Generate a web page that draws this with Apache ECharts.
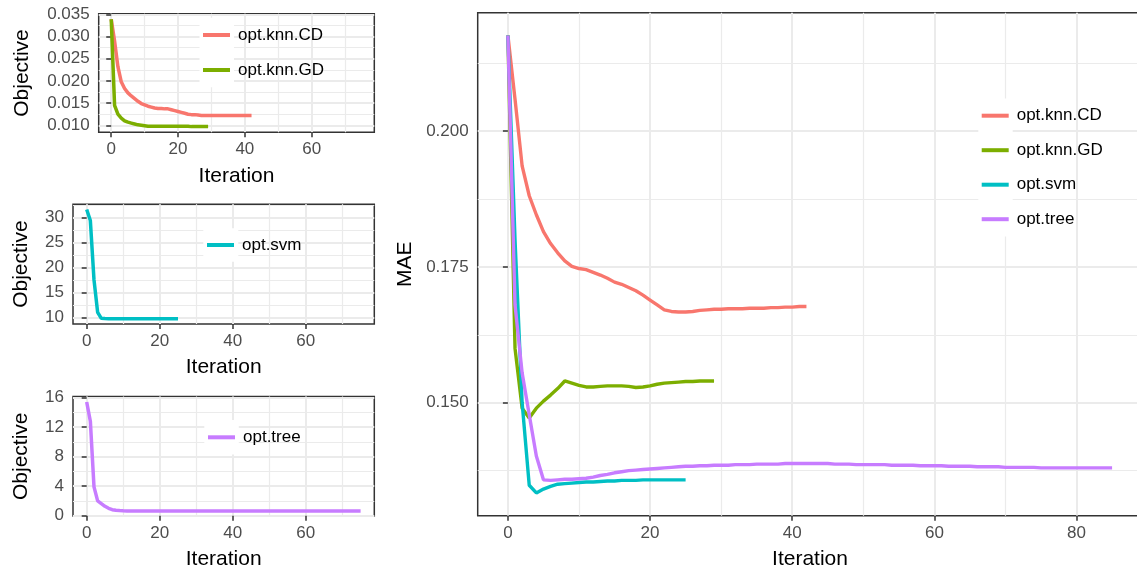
<!DOCTYPE html>
<html><head><meta charset="utf-8">
<script src="https://cdn.jsdelivr.net/npm/echarts@6/dist/echarts.min.js"></script>
<style>html,body{margin:0;padding:0;background:#fff}#c{width:1137px;height:573px}</style>
</head><body><div id="c"></div>
<script>
// ---------------- data ----------------
const seriesNames = ['opt.knn.CD', 'opt.knn.GD', 'opt.svm', 'opt.tree'];

// Objective per iteration (small panels)
const cdObj = [0.0339, 0.0290, 0.0232, 0.0198, 0.0183, 0.0173, 0.0166, 0.0160, 0.0154, 0.0149,
  0.0146, 0.0143, 0.0141, 0.0139, 0.0138, 0.0138, 0.0137, 0.0137, 0.0135, 0.0133,
  0.0131, 0.0129, 0.0127, 0.0125, 0.0124, 0.0124, 0.0123, 0.0122, 0.0122, 0.0122,
  0.0122, 0.0122, 0.0122, 0.0122, 0.0122, 0.0122, 0.0122, 0.0122, 0.0122, 0.0122,
  0.0122, 0.0122, 0.0122];
const gdObj = [0.0339, 0.0145, 0.0125, 0.0116, 0.0110, 0.0107, 0.0105, 0.0103, 0.0101, 0.0100,
  0.0099, 0.0098, 0.0098, 0.0098, 0.0098, 0.0098, 0.0098, 0.0098, 0.0098, 0.0098,
  0.0098, 0.0098, 0.0098, 0.0098, 0.0097, 0.0097, 0.0097, 0.0097, 0.0097, 0.0097];
const svmObj = [31.6, 29.4, 17.5, 11.0, 9.8, 9.75, 9.72, 9.72, 9.72, 9.72,
  9.72, 9.72, 9.72, 9.72, 9.72, 9.72, 9.72, 9.72, 9.72, 9.72,
  9.72, 9.72, 9.72, 9.72, 9.72, 9.72];
const treeObj = [15.4, 12.8, 3.9, 2.0, 1.63, 1.26, 0.99, 0.81, 0.72, 0.68,
  0.65, 0.64, 0.63, 0.63, 0.63, 0.63, 0.63, 0.63, 0.63, 0.63,
  0.63, 0.63, 0.63, 0.63, 0.63, 0.63, 0.63, 0.63, 0.63, 0.63,
  0.63, 0.63, 0.63, 0.63, 0.63, 0.63, 0.63, 0.63, 0.63, 0.63,
  0.63, 0.63, 0.63, 0.63, 0.63, 0.63, 0.63, 0.63, 0.63, 0.63,
  0.63, 0.63, 0.63, 0.63, 0.63, 0.63, 0.63, 0.63, 0.63, 0.63,
  0.63, 0.63, 0.63, 0.63, 0.63, 0.63, 0.63, 0.63, 0.63, 0.63,
  0.63, 0.63, 0.63, 0.63, 0.63, 0.63];

// MAE per iteration (main panel)
const cdMae = [0.2176, 0.2059, 0.1936, 0.1881, 0.1846, 0.1815, 0.1793, 0.1776, 0.1761, 0.1751,
  0.1747, 0.1745, 0.1740, 0.1735, 0.1729, 0.1722, 0.1718, 0.1712, 0.1706, 0.1698,
  0.1689, 0.1680, 0.1671, 0.1668, 0.1667, 0.1667, 0.1668, 0.1670, 0.1671, 0.1672,
  0.1672, 0.1673, 0.1673, 0.1673, 0.1674, 0.1674, 0.1674, 0.1675, 0.1675, 0.1676,
  0.1676, 0.1677, 0.1677];
const gdMae = [0.2176, 0.1600, 0.1490, 0.1472, 0.1490, 0.1503, 0.1514, 0.1526, 0.1540, 0.1536,
  0.1532, 0.1529, 0.1529, 0.1530, 0.1531, 0.1531, 0.1531, 0.1530, 0.1528, 0.1529,
  0.1531, 0.1534, 0.1536, 0.1537, 0.1538, 0.1539, 0.1539, 0.1540, 0.1540, 0.1540];
const svmMae = [0.2176, 0.1800, 0.1500, 0.1348, 0.1334, 0.1341, 0.1346, 0.1350, 0.1351, 0.1352,
  0.1353, 0.1354, 0.1354, 0.1355, 0.1356, 0.1356, 0.1357, 0.1357, 0.1357, 0.1358,
  0.1358, 0.1358, 0.1358, 0.1358, 0.1358, 0.1358];
const treeMae = [0.2176, 0.1680, 0.1555, 0.1478, 0.1402, 0.1358, 0.1357, 0.1358, 0.1359, 0.1359,
  0.1360, 0.1361, 0.1363, 0.1366, 0.1368, 0.1371, 0.1373, 0.1375, 0.1376, 0.1377,
  0.1378, 0.1379, 0.1380, 0.1381, 0.1382, 0.1383, 0.1383, 0.1384, 0.1384, 0.1385,
  0.1385, 0.1385, 0.1386, 0.1386, 0.1386, 0.1387, 0.1387, 0.1387, 0.1387, 0.1388,
  0.1388, 0.1388, 0.1388, 0.1388, 0.1388, 0.1388, 0.1387, 0.1387, 0.1387, 0.1386,
  0.1386, 0.1386, 0.1386, 0.1386, 0.1385, 0.1385, 0.1385, 0.1385, 0.1384, 0.1384,
  0.1384, 0.1384, 0.1383, 0.1383, 0.1383, 0.1383, 0.1382, 0.1382, 0.1382, 0.1382,
  0.1381, 0.1381, 0.1381, 0.1381, 0.1381, 0.1380, 0.1380, 0.1380, 0.1380, 0.1380,
  0.1380, 0.1380, 0.1380, 0.1380, 0.1380, 0.1380];

// tick labels
const smallXTicks = [0, 20, 40, 60];
const smallXMinor = [10, 30, 50, 70];
const mainXTicks = [0, 20, 40, 60, 80];
const mainXMinor = [10, 30, 50, 70];
const knnYTicks = [0.010, 0.015, 0.020, 0.025, 0.030, 0.035];
const knnYMinor = [0.0125, 0.0175, 0.0225, 0.0275, 0.0325];
const svmYTicks = [10, 15, 20, 25, 30];
const svmYMinor = [12.5, 17.5, 22.5, 27.5, 32.5];
const treeYTicks = [0, 4, 8, 12, 16];
const treeYMinor = [2, 6, 10, 14];
const mainYTicks = [0.150, 0.175, 0.200];
const mainYMinor = [0.1375, 0.1625, 0.1875, 0.2125];

// ---------------- styling / layout ----------------
const FONT = '"Liberation Sans", Arial, Helvetica, sans-serif';
const COLORS = {'opt.knn.CD': '#F8766D', 'opt.knn.GD': '#7CAE00', 'opt.svm': '#00BFC4', 'opt.tree': '#C77CFF'};
const pairs = a => a.map((v, i) => [i, v]);

const gridBoxes = [
  {left: 98.7, top: 13.7, width: 275.6, height: 118.6},
  {left: 73, top: 204.2, width: 301.3, height: 119.8},
  {left: 73, top: 396.5, width: 301.3, height: 119.5},
  {left: 477.7, top: 12.7, width: 664.6, height: 503}
];

function axisPair(dim, gi, min, max, ticks, minor, fmt, name, gap) {
  const minorAxis = {
    type: 'value', gridIndex: gi, min: min, max: max,
    position: dim === 'x' ? 'top' : 'right',
    axisLine: {show: false},
    axisTick: {show: false, customValues: minor},
    axisLabel: {show: false},
    splitLine: {show: true, lineStyle: {color: '#EBEBEB', width: 1.2}}
  };
  const majorAxis = {
    type: 'value', gridIndex: gi, min: min, max: max,
    position: dim === 'x' ? 'bottom' : 'left',
    axisLine: {show: false},
    axisTick: {show: true, customValues: ticks, length: 5, lineStyle: {color: '#333333', width: 1.5}},
    axisLabel: {show: true, customValues: ticks, formatter: fmt, margin: 9,
      color: '#4D4D4D', fontSize: 17, fontFamily: FONT},
    splitLine: {show: true, lineStyle: {color: '#EBEBEB', width: 2}},
    name: name, nameLocation: 'middle', nameGap: gap,
    nameTextStyle: {color: '#000', fontSize: 21, fontFamily: FONT}
  };
  return [minorAxis, majorAxis];
}

const intFmt = v => String(Math.round(v));
const f3 = v => v.toFixed(3);

const xAxes = [].concat(
  axisPair('x', 0, -3.75, 78.75, smallXTicks, smallXMinor, intFmt, 'Iteration', 33),
  axisPair('x', 1, -3.75, 78.75, smallXTicks, smallXMinor, intFmt, 'Iteration', 33),
  axisPair('x', 2, -3.75, 78.75, smallXTicks, smallXMinor, intFmt, 'Iteration', 33),
  axisPair('x', 3, -4.25, 89.25, mainXTicks, mainXMinor, intFmt, 'Iteration', 33)
);
const yAxes = [].concat(
  axisPair('y', 0, 0.00842, 0.03514, knnYTicks, knnYMinor, f3, 'Objective', 66),
  axisPair('y', 1, 8.67, 32.67, svmYTicks, svmYMinor, intFmt, 'Objective', 41),
  axisPair('y', 2, -0.05, 16.15, treeYTicks, treeYMinor, intFmt, 'Objective', 41),
  axisPair('y', 3, 0.1292, 0.2218, mainYTicks, mainYMinor, f3, 'MAE', 60)
);

function lineSeries(name, data, gi, width) {
  return {
    type: 'line', name: name, xAxisIndex: gi * 2 + 1, yAxisIndex: gi * 2 + 1,
    data: pairs(data), showSymbol: false, symbol: 'none', color: COLORS[name],
    lineStyle: {width: width, color: COLORS[name]}, itemStyle: {color: COLORS[name]},
    z: 2, animation: false
  };
}

const series = [
  lineSeries('opt.knn.CD', cdObj, 0, 3.5),
  lineSeries('opt.knn.GD', gdObj, 0, 3.5),
  lineSeries('opt.svm', svmObj, 1, 3.5),
  lineSeries('opt.tree', treeObj, 2, 3.5),
  lineSeries('opt.knn.CD', cdMae, 3, 3.4),
  lineSeries('opt.knn.GD', gdMae, 3, 3.4),
  lineSeries('opt.svm', svmMae, 3, 3.4),
  lineSeries('opt.tree', treeMae, 3, 3.4)
];

function legendAt(names, left, top, gap) {
  return {
    data: names, left: left, top: top, orient: 'vertical', padding: 0,
    icon: 'rect', itemWidth: 27, itemHeight: 4, itemGap: gap, selectedMode: false,
    textStyle: {fontSize: 17, color: '#000', fontFamily: FONT, lineHeight: 20, padding: [0, 0, 0, 3]}
  };
}

// white legend-key backgrounds (ggplot theme_bw legend.key)
const keyBoxes = [
  [199.5, 17.7, 34.5, 69.6],
  [203.3, 228.3, 35, 33.4],
  [204.3, 420.1, 34.5, 34.5],
  [978.3, 98.4, 34.4, 138.2]
];

const option = {
  animation: false,
  backgroundColor: '#fff',
  grid: gridBoxes.map(g => Object.assign({show: true, borderColor: '#333333', borderWidth: 1.5,
    backgroundColor: 'transparent', containLabel: false, outerBoundsMode: 'none'}, g)),
  xAxis: xAxes,
  yAxis: yAxes,
  legend: [
    legendAt(['opt.knn.CD', 'opt.knn.GD'], 203, 25, 15),
    legendAt(['opt.svm'], 207, 235, 15),
    legendAt(['opt.tree'], 208, 427.3, 15),
    legendAt(seriesNames, 981.7, 105.7, 14.5)
  ],
  graphic: keyBoxes.map(b => ({type: 'rect', silent: true, z: 1,
    shape: {x: b[0], y: b[1], width: b[2], height: b[3]}, style: {fill: '#fff'}})),
  series: series
};

const chart = echarts.init(document.getElementById('c'), null, {renderer: 'canvas'});
chart.setOption(option);
</script>
</body></html>
